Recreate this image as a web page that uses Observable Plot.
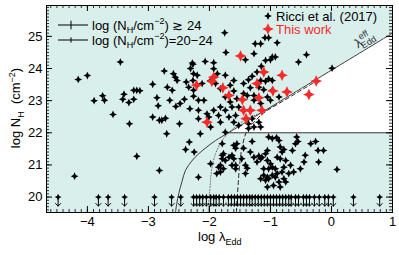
<!DOCTYPE html>
<html><head><meta charset="utf-8">
<script src="https://cdn.jsdelivr.net/npm/d3@7"></script>
<script src="https://cdn.jsdelivr.net/npm/@observablehq/plot@0.6"></script>
<style>body{margin:0;background:#fff}svg{display:block}</style>
</head><body><div id="chart"></div>
<script>
// ---------- data ----------
const xTicks = [-4, -3, -2, -1, 0, 1];
const yTicks = [20, 21, 22, 23, 24, 25];
const xDomain = [-4.67, 1];
const yDomain = [19.52, 25.96];

const ricci = [
[-4.15,23.66],[-4.00,23.78],[-3.89,23.00],[-3.75,23.15],[-3.72,23.01],[-3.58,22.57],[-3.46,24.20],[-3.42,23.04],[-3.40,23.20],[-3.32,22.94],[-3.31,22.28],[-3.24,23.04],[-3.24,23.32],[-3.19,23.32],[-3.14,23.31],[-2.93,23.51],[-2.93,22.49],[-2.86,23.09],[-2.84,22.84],[-2.82,22.39],[-2.78,22.39],[-2.74,23.92],[-2.72,22.45],[-2.69,23.42],[-2.65,23.01],[-2.61,23.32],[-2.59,23.84],[-2.56,23.73],[-2.55,22.82],[-2.53,23.63],[-2.49,22.28],[-2.48,22.91],[-2.41,23.04],[-2.38,23.58],[-2.34,23.42],[-2.32,22.75],[-2.31,24.00],[-2.28,24.17],[-2.27,24.13],[-2.27,23.63],[-2.26,23.84],[-2.26,23.32],[-2.26,23.14],[-2.20,23.79],[-2.18,23.01],[-2.18,22.70],[-2.18,22.44],
[-2.12,23.53],[-2.09,23.01],[-2.07,24.22],[-2.04,22.59],[-2.01,22.49],[-1.98,23.63],[-1.98,22.18],[-1.93,24.18],[-1.93,23.99],[-1.93,22.70],[-1.90,23.53],[-1.87,23.84],[-1.85,22.54],[-1.82,23.37],[-1.82,22.80],[-1.82,22.33],[-1.75,25.11],[-1.74,23.79],[-1.74,23.11],[-1.74,22.70],[-1.74,22.02],[-1.73,24.50],[-1.68,22.49],[-1.66,23.48],[-1.66,22.96],[-1.63,22.80],[-1.60,23.63],[-1.60,23.30],[-1.60,22.33],[-1.57,22.54],[-1.55,23.06],[-1.52,22.80],[-1.52,22.23],[-1.44,23.53],[-1.44,23.22],[-1.41,24.27],[-1.38,23.16],[-1.36,23.65],[-1.36,22.28],[-1.36,22.13],[-1.33,23.40],[-1.30,23.76],[-1.30,22.44],[-1.27,24.46],[-1.27,23.16],[-1.27,23.01],[-1.27,22.18],[-1.25,24.77],[-1.22,23.89],[-1.19,23.42],[-1.19,22.33],[-1.16,24.77],[-1.16,23.63],[-1.16,22.91],[-1.16,22.18],[-1.15,24.07],[-1.11,23.34],[-1.09,24.96],[-1.08,24.25],[-1.08,23.60],[-1.05,23.11],[-1.03,24.96],[-1.03,23.68],[-1.00,24.27],[-1.00,23.01],[-0.97,24.36],[-0.97,23.63],[-0.97,23.32],[-0.92,24.36],[-0.89,24.80],[-0.86,23.11],[-0.54,24.20],[-0.41,24.43],[0.01,24.01],
[-4.21,20.65],[-3.19,21.27],[-2.82,20.83],[-2.70,21.97],[-2.39,21.48],[-2.33,21.71],[-2.25,21.40],[-2.18,20.62],[-2.15,21.97],
[-1.98,21.04],[-1.88,20.73],[-1.85,20.93],[-1.82,20.78],[-1.82,20.99],[-1.79,21.66],[-1.79,21.30],[-1.79,21.19],[-1.77,21.35],[-1.77,20.88],[-1.74,21.14],[-1.68,21.24],[-1.63,21.30],[-1.63,20.99],[-1.60,21.61],[-1.60,21.19],[-1.57,21.52],[-1.57,20.99],[-1.57,20.88],[-1.55,21.66],[-1.47,21.19],[-1.44,21.52],[-1.41,20.99],[-1.41,20.73],[-1.38,20.90],[-1.33,21.40],[-1.30,21.73],[-1.27,21.24],[-1.22,21.09],[-1.19,21.28],[-1.16,21.19],[-1.16,20.57],[-1.14,21.24],[-1.11,20.88],[-1.11,20.68],[-1.08,21.35],[-1.08,20.52],[-1.05,21.45],[-1.05,21.14],[-1.05,20.62],[-1.05,20.31],[-1.03,21.87],[-1.03,20.88],[-1.03,20.57],[-1.00,21.04],[-0.97,21.82],[-0.97,20.93],[-0.97,20.68],[-0.95,20.36],[-0.92,20.88],[-0.92,20.62],[-0.90,21.85],[-0.89,21.24],[-0.89,20.73],[-0.86,21.76],[-0.86,20.47],[-0.84,21.56],[-0.84,21.19],[-0.84,20.31],[-0.81,21.40],[-0.81,20.78],[-0.78,21.48],[-0.78,20.93],[-0.78,20.57],[-0.75,21.14],[-0.75,20.47],[-0.70,20.73],[-0.67,20.99],[-0.64,21.45],[-0.62,20.78],[-0.59,21.66],[-0.57,21.87],[-0.55,21.73],[-0.51,20.88],[-0.45,21.09],[-0.43,21.30],[-0.34,21.66],[-0.26,21.73],[-0.22,21.45],[-0.21,21.09],[-0.13,21.45],[0.09,20.86]
];

const thisWork = [
[-2.21,23.48],[-2.04,22.33],[-1.96,23.60],[-1.93,23.73],[-1.78,23.40],[-1.68,23.16],[-1.49,24.39],[-1.46,23.03],[-1.44,22.70],[-1.40,22.44],[-1.33,22.70],[-1.22,23.53],[-1.19,23.09],[-1.14,22.70],[-1.11,23.89],[-0.96,23.30],[-0.81,23.79],[-0.73,23.27],[-0.37,23.19],[-0.25,23.61]
];

// upper limits at log NH = 20
const upperLimitX = [-4.48,-3.82,-3.66,-3.39,-2.90,-2.62,-2.47,-2.26,-2.21,-2.16,-2.11,-2.05,-1.98,-1.93,-1.89,-1.84,-1.77,-1.69,-1.64,-1.59,-1.54,-1.49,-1.44,-1.39,-1.34,-1.30,-1.25,-1.20,-1.15,-1.10,-1.05,-1.00,-0.95,-0.90,-0.85,-0.80,-0.75,-0.70,-0.66,-0.59,-0.54,-0.46,-0.41,-0.36,-0.28,-0.20,-0.11,-0.05,0.03,0.36,0.79];
const upperLimitY = 20;

// effective Eddington limit curves
const effSolid = [[-2.557,19.52],[-2.535,19.8],[-2.503,20.11],[-2.45,20.48],[-2.393,20.83],[-2.29,21.12],[-2.175,21.35],[-2.04,21.56],[-1.90,21.76],[-1.68,22.01],[-1.11,22.67],[1.0,25.10]];
const effDotted = [[-2.02,19.52],[-2.005,20.0],[-1.99,20.3],[-1.965,20.83],[-1.90,21.35],[-1.77,21.82],[-1.61,22.13],[-1.38,22.44],[-1.16,22.62],[-0.9,22.9]];
const effDashed = [[-1.557,19.52],[-1.55,19.9],[-1.536,20.21],[-1.508,20.93],[-1.464,21.56],[-1.38,22.08],[-1.27,22.33],[-1.16,22.54],[-1.05,22.70],[-0.8,22.98],[-0.3,23.55]];
const whiteRegion = [[-1.68,22.01],[-1.11,22.67],[1.0,25.10]];
const nhCut = 22;

// ---------- drawing ----------
const font = "'Liberation Sans', Arial, Helvetica, sans-serif";
const star4 = {draw(ctx, size){ const r = Math.sqrt(size/Math.PI), w = r*0.32;
  ctx.moveTo(0,-r); ctx.lineTo(w,-w); ctx.lineTo(r,0); ctx.lineTo(w,w);
  ctx.lineTo(0,r); ctx.lineTo(-w,w); ctx.lineTo(-r,0); ctx.lineTo(-w,-w); ctx.closePath(); }};
const fmt = d => d < 0 ? "\u2212" + (-d) : String(d);

const W = 399, H = 255, mL = 46, mR = 7, mT = 5, mB = 43;
const pxX = (xDomain[1]-xDomain[0]) / (W-mL-mR);
const pxY = (yDomain[1]-yDomain[0]) / (H-mT-mB);
const xMinor = d3.range(-46, 11).map(i => i/10);
const yMinor = d3.range(196, 260).map(i => i/10);
const majL = 6, minL = 3;

const plot = Plot.plot({
  width: W, height: H, marginLeft: mL, marginRight: mR, marginTop: mT, marginBottom: mB,
  x: {domain: xDomain}, y: {domain: yDomain},
  style: {fontFamily: font, fontSize: "13px", background: "white", color: "black"},
  marks: [
    Plot.frame({fill: "#d9efec", stroke: null}),
    Plot.areaY(whiteRegion, {x: d => d[0], y1: nhCut, y2: d => d[1], fill: "white"}),
    Plot.line(effDotted, {x: d => d[0], y: d => d[1], curve: "catmull-rom", stroke: "#6a6a6a", strokeWidth: 1, strokeDasharray: "1,1.8"}),
    Plot.line(effDashed, {x: d => d[0], y: d => d[1], curve: "catmull-rom", stroke: "#222", strokeWidth: 1, strokeDasharray: "4,3"}),
    Plot.line(effSolid, {x: d => d[0], y: d => d[1], curve: "catmull-rom", stroke: "#3a3a3a", strokeWidth: 1}),
    Plot.ruleY([nhCut], {x1: whiteRegion[0][0], x2: xDomain[1], stroke: "#3a3a3a", strokeWidth: 1}),
    // upper limits
    Plot.vector(upperLimitX, {x: d => d, y: upperLimitY, length: 9, rotate: 180, anchor: "start", r: 5, stroke: "black", strokeWidth: 1}),
    Plot.dot(upperLimitX, {x: d => d, y: upperLimitY, symbol: star4, r: 3.4, fill: "black", stroke: null}),
    // points
    Plot.dot(ricci, {x: d => d[0], y: d => d[1], symbol: star4, r: 3.9, fill: "black", stroke: null}),
    Plot.dot(thisWork, {x: d => d[0], y: d => d[1], symbol: star4, r: 5.8, fill: "#f42b2b", stroke: null}),
    // inward ticks (minor + major) on all four sides
    Plot.ruleX(xMinor, {y1: yDomain[0], y2: yDomain[0] + minL*pxY, stroke: "black", strokeWidth: 0.8}),
    Plot.ruleX(xMinor, {y1: yDomain[1] - minL*pxY, y2: yDomain[1], stroke: "black", strokeWidth: 0.8}),
    Plot.ruleX(xTicks, {y1: yDomain[0], y2: yDomain[0] + majL*pxY, stroke: "black", strokeWidth: 1}),
    Plot.ruleX(xTicks, {y1: yDomain[1] - majL*pxY, y2: yDomain[1], stroke: "black", strokeWidth: 1}),
    Plot.ruleY(yMinor, {x1: xDomain[0], x2: xDomain[0] + minL*pxX, stroke: "black", strokeWidth: 0.8}),
    Plot.ruleY(yMinor, {x1: xDomain[1] - minL*pxX, x2: xDomain[1], stroke: "black", strokeWidth: 0.8}),
    Plot.ruleY(yTicks, {x1: xDomain[0], x2: xDomain[0] + majL*pxX, stroke: "black", strokeWidth: 1}),
    Plot.ruleY(yTicks, {x1: xDomain[1] - majL*pxX, x2: xDomain[1], stroke: "black", strokeWidth: 1}),
    Plot.frame({stroke: "black", strokeWidth: 1}),
    Plot.axisX({ticks: xTicks, tickSize: 0, tickPadding: 4, tickFormat: fmt, label: null, fontSize: 13}),
    Plot.axisY({ticks: yTicks, tickSize: 0, tickPadding: 4, tickFormat: fmt, label: null, fontSize: 13})
  ]
});
document.getElementById("chart").appendChild(plot);

// ---------- titles & legends ----------
const svg = d3.select(plot);
const g = svg.append("g").attr("font-family", font).attr("font-size", 13)
  .attr("fill", "black").attr("text-anchor", "start");
function richSeq(sel, parts) {
  let shift = 0;
  parts.forEach(([t, m]) => {
    const ts = sel.append("tspan").text(t);
    const target = m === "sub" ? 3.5 : m === "sup" ? -5.5 : 0;
    ts.attr("dy", target - shift);
    if (m) ts.attr("font-size", 9);
    shift = target;
  });
}
// x title
richSeq(g.append("text").attr("x", 198).attr("y", 241), [["log \u03bb", 0], ["Edd", "sub"]]);
// y title
richSeq(g.append("text").attr("transform", "translate(20,108) rotate(-90)").attr("text-anchor", "middle"),
  [["log N", 0], ["H", "sub"], ["  (cm", 0], ["\u22122", "sup"], [")", 0]]);

// legend 1 (N_H ranges)
[[25, 4.3, " \u2273 24"], [40, 2.6, "=20\u221224"]].forEach(([y, h, tail]) => {
  g.append("line").attr("x1", 58).attr("x2", 88).attr("y1", y).attr("y2", y).attr("stroke", "black");
  g.append("line").attr("x1", 71).attr("x2", 71).attr("y1", y - h).attr("y2", y + h).attr("stroke", "black");
  richSeq(g.append("text").attr("x", 92).attr("y", y + 4.5),
    [["log (N", 0], ["H", "sub"], ["/cm", 0], ["\u22122", "sup"], [")" + tail, 0]]);
});

// legend 2 (samples)
const sym = r => d3.symbol().type(star4).size(r*r*Math.PI)();
g.append("path").attr("d", sym(3.9)).attr("transform", "translate(268,16)").attr("fill", "black");
g.append("text").attr("x", 276).attr("y", 21).text("Ricci et al. (2017)");
g.append("path").attr("d", sym(5.8)).attr("transform", "translate(268,29)").attr("fill", "#f42b2b");
g.append("text").attr("x", 276).attr("y", 34).attr("fill", "#f42b2b").text("This work");

// lambda_eff label along the limit line
const sx = plot.scale("x"), sy = plot.scale("y");
const p0 = effSolid[effSolid.length - 3], p1 = effSolid[effSolid.length - 1];
const ang = Math.atan2(sy.apply(p1[1]) - sy.apply(p0[1]), sx.apply(p1[0]) - sx.apply(p0[0])) * 180 / Math.PI;
const lx = 0.62, ly = p0[1] + (lx - p0[0]) * (p1[1] - p0[1]) / (p1[0] - p0[0]);
const lab = g.append("text").attr("fill", "#333").attr("text-anchor", "middle")
  .attr("transform", `translate(${sx.apply(lx)},${sy.apply(ly)}) rotate(${ang}) translate(0,-4)`);
lab.append("tspan").text("\u03bb");
lab.append("tspan").attr("font-size", 9).attr("dy", -6).text("eff");
lab.append("tspan").attr("font-size", 9).attr("dx", -12).attr("dy", 9).text("Edd");
</script>
</body></html>
